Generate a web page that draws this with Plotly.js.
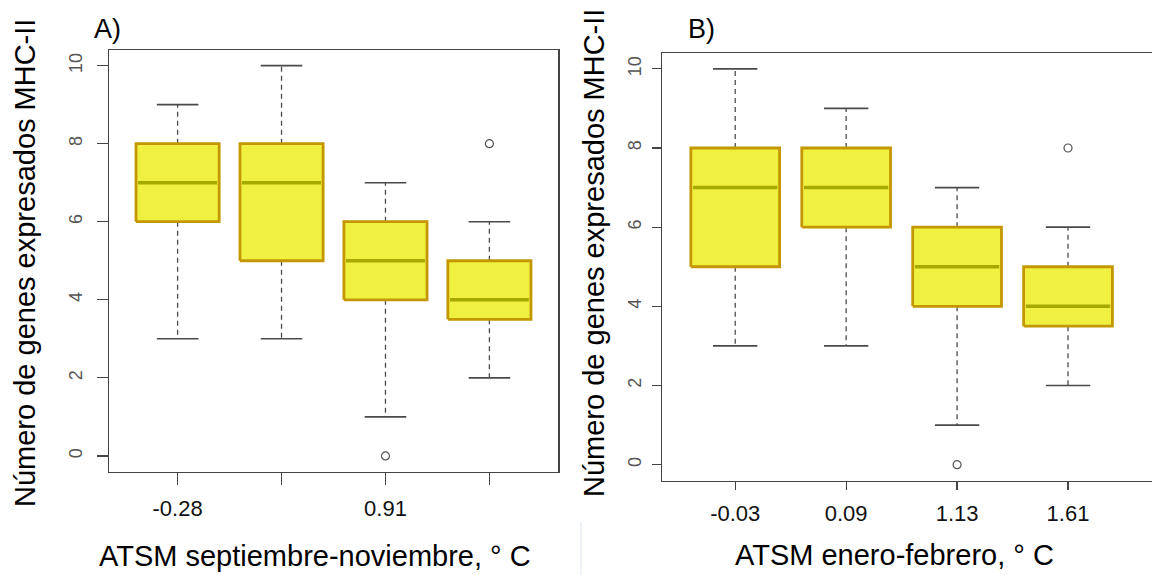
<!DOCTYPE html>
<html>
<head>
<meta charset="utf-8">
<script src="https://cdn.plot.ly/plotly-3.0.1.min.js"></script>
<style>html,body{margin:0;padding:0;background:#fff;}#chart{width:1152px;height:575px;}</style>
</head>
<body>
<div id="chart"></div>
<script>
// Panel A: ATSM septiembre-noviembre
const tickLabelsA = ["-0.28", "", "0.91", ""];
const minA = [3, 3, 1, 2];
const q1A = [6, 5, 4, 3.5];
const medA = [7, 7, 5, 4];
const q3A = [8, 8, 6, 5];
const maxA = [9, 10, 7, 6];
const outXA = [3, 4];
const outYA = [0, 8];

// Panel B: ATSM enero-febrero
const tickLabelsB = ["-0.03", "0.09", "1.13", "1.61"];
const minB = [3, 3, 1, 2];
const q1B = [5, 6, 4, 3.5];
const medB = [7, 7, 5, 4];
const q3B = [8, 8, 6, 5];
const maxB = [10, 9, 7, 6];
const outXB = [3, 4];
const outYB = [0, 8];

const yTicks = [0, 2, 4, 6, 8, 10];

const FILL = '#F0F040', BORDER = '#C49700', MED = '#A6AA00', WH = '#4a4a4a';
const BW = 0.8, CAP = 0.4;
const FONT = 'Liberation Sans, Arial, sans-serif';

function panelTraces(mn, q1, md, q3, mx, ox, oy, xa, ya) {
  const traces = [];
  const wx = [], wy = [], cx = [], cy = [];
  for (let i = 0; i < mn.length; i++) {
    const c = i + 1;
    wx.push(c, c, null, c, c, null);
    wy.push(q3[i], mx[i], null, q1[i], mn[i], null);
    cx.push(c - CAP / 2, c + CAP / 2, null, c - CAP / 2, c + CAP / 2, null);
    cy.push(mx[i], mx[i], null, mn[i], mn[i], null);
  }
  traces.push({type: 'scatter', mode: 'lines', x: wx, y: wy, xaxis: xa, yaxis: ya,
    line: {color: WH, width: 1.3, dash: '5px,4px'}, hoverinfo: 'skip', showlegend: false});
  traces.push({type: 'scatter', mode: 'lines', x: cx, y: cy, xaxis: xa, yaxis: ya,
    line: {color: WH, width: 1.6}, hoverinfo: 'skip', showlegend: false});
  for (let i = 0; i < mn.length; i++) {
    const c = i + 1, l = c - BW / 2, r = c + BW / 2;
    traces.push({type: 'scatter', mode: 'lines', x: [l, r, r, l, l], y: [q1[i], q1[i], q3[i], q3[i], q1[i]],
      fill: 'toself', fillcolor: FILL, xaxis: xa, yaxis: ya,
      line: {color: BORDER, width: 2.8}, hoverinfo: 'skip', showlegend: false});
    traces.push({type: 'scatter', mode: 'lines', x: [l + 0.02, r - 0.02], y: [md[i], md[i]], xaxis: xa, yaxis: ya,
      line: {color: MED, width: 3.5}, hoverinfo: 'skip', showlegend: false});
  }
  traces.push({type: 'scatter', mode: 'markers', x: ox, y: oy, xaxis: xa, yaxis: ya,
    marker: {symbol: 'circle-open', size: 8, color: '#555', line: {width: 1.2}}, hoverinfo: 'skip', showlegend: false});
  return traces;
}

const data = [].concat(
  panelTraces(minA, q1A, medA, q3A, maxA, outXA, outYA, 'x', 'y'),
  panelTraces(minB, q1B, medB, q3B, maxB, outXB, outYB, 'x2', 'y2')
);

const W = 1152, H = 575;
function yAxis(domTop, domBot, anchor, mirror, tlen, standoff) {
  return {domain: [1 - domBot / H, 1 - domTop / H], range: [-0.4, 10.4], anchor: anchor,
    tickvals: yTicks, ticktext: yTicks.map(String), tickangle: -90,
    ticks: 'outside', ticklen: tlen, tickwidth: 1.3, tickcolor: '#444',
    showline: true, linecolor: '#444', linewidth: 1.5, mirror: mirror,
    showgrid: false, zeroline: false, ticklabelstandoff: standoff,
    tickfont: {family: FONT, size: 18, color: '#555'}};
}
function xAxis(l, r, range, labels, anchor, tlen, standoff) {
  return {domain: [l / W, r / W], range: range, anchor: anchor,
    tickvals: [1, 2, 3, 4], ticktext: labels,
    ticks: 'outside', ticklen: tlen, tickwidth: 1.3, tickcolor: '#444',
    showline: true, linecolor: '#444', linewidth: 1.5, mirror: true,
    showgrid: false, zeroline: false, ticklabelstandoff: standoff,
    tickfont: {family: FONT, size: 22, color: '#111'}};
}

const layout = {
  width: W, height: H,
  margin: {l: 0, r: 0, t: 0, b: 0},
  paper_bgcolor: '#fff', plot_bgcolor: '#fff',
  showlegend: false,
  xaxis: xAxis(109, 558, [0.34, 4.66], tickLabelsA, 'y', 12, 5),
  yaxis: yAxis(50, 471.5, 'x', true, 11, 7),
  xaxis2: xAxis(662, 1152, [0.34, 4.757], tickLabelsB, 'y2', 8, 5),
  yaxis2: yAxis(53, 480.5, 'x2', false, 9, 3),
  annotations: [
    {text: 'A)', xref: 'paper', yref: 'paper', x: 92 / W, y: 1 - 29 / H, xanchor: 'left', yanchor: 'middle', showarrow: false,
      font: {family: FONT, size: 27, color: '#000'}},
    {text: 'B)', xref: 'paper', yref: 'paper', x: 686 / W, y: 1 - 29 / H, xanchor: 'left', yanchor: 'middle', showarrow: false,
      font: {family: FONT, size: 27, color: '#000'}},
    {text: 'Número de genes expresados MHC-II', xref: 'paper', yref: 'paper', x: 25 / W, y: 1 - 263 / H,
      xanchor: 'center', yanchor: 'middle', textangle: -90, showarrow: false,
      font: {family: FONT, size: 29, color: '#000'}},
    {text: 'Número de genes expresados MHC-II', xref: 'paper', yref: 'paper', x: 594 / W, y: 1 - 253 / H,
      xanchor: 'center', yanchor: 'middle', textangle: -90, showarrow: false,
      font: {family: FONT, size: 29, color: '#000'}},
    {text: 'ATSM septiembre-noviembre, ° C', xref: 'paper', yref: 'paper', x: 315 / W, y: 1 - 556 / H,
      xanchor: 'center', yanchor: 'middle', showarrow: false,
      font: {family: FONT, size: 29, color: '#000'}},
    {text: 'ATSM enero-febrero, ° C', xref: 'paper', yref: 'paper', x: 894 / W, y: 1 - 555 / H,
      xanchor: 'center', yanchor: 'middle', showarrow: false,
      font: {family: FONT, size: 29, color: '#000'}}
  ],
  shapes: [
    {type: 'line', xref: 'paper', yref: 'paper', x0: 581 / W, x1: 581 / W, y0: 0, y1: 1 - 522 / H,
      line: {color: '#dce6f2', width: 1}}
  ]
};

Plotly.newPlot('chart', data, layout, {displayModeBar: false, staticPlot: true});
</script>
</body>
</html>
